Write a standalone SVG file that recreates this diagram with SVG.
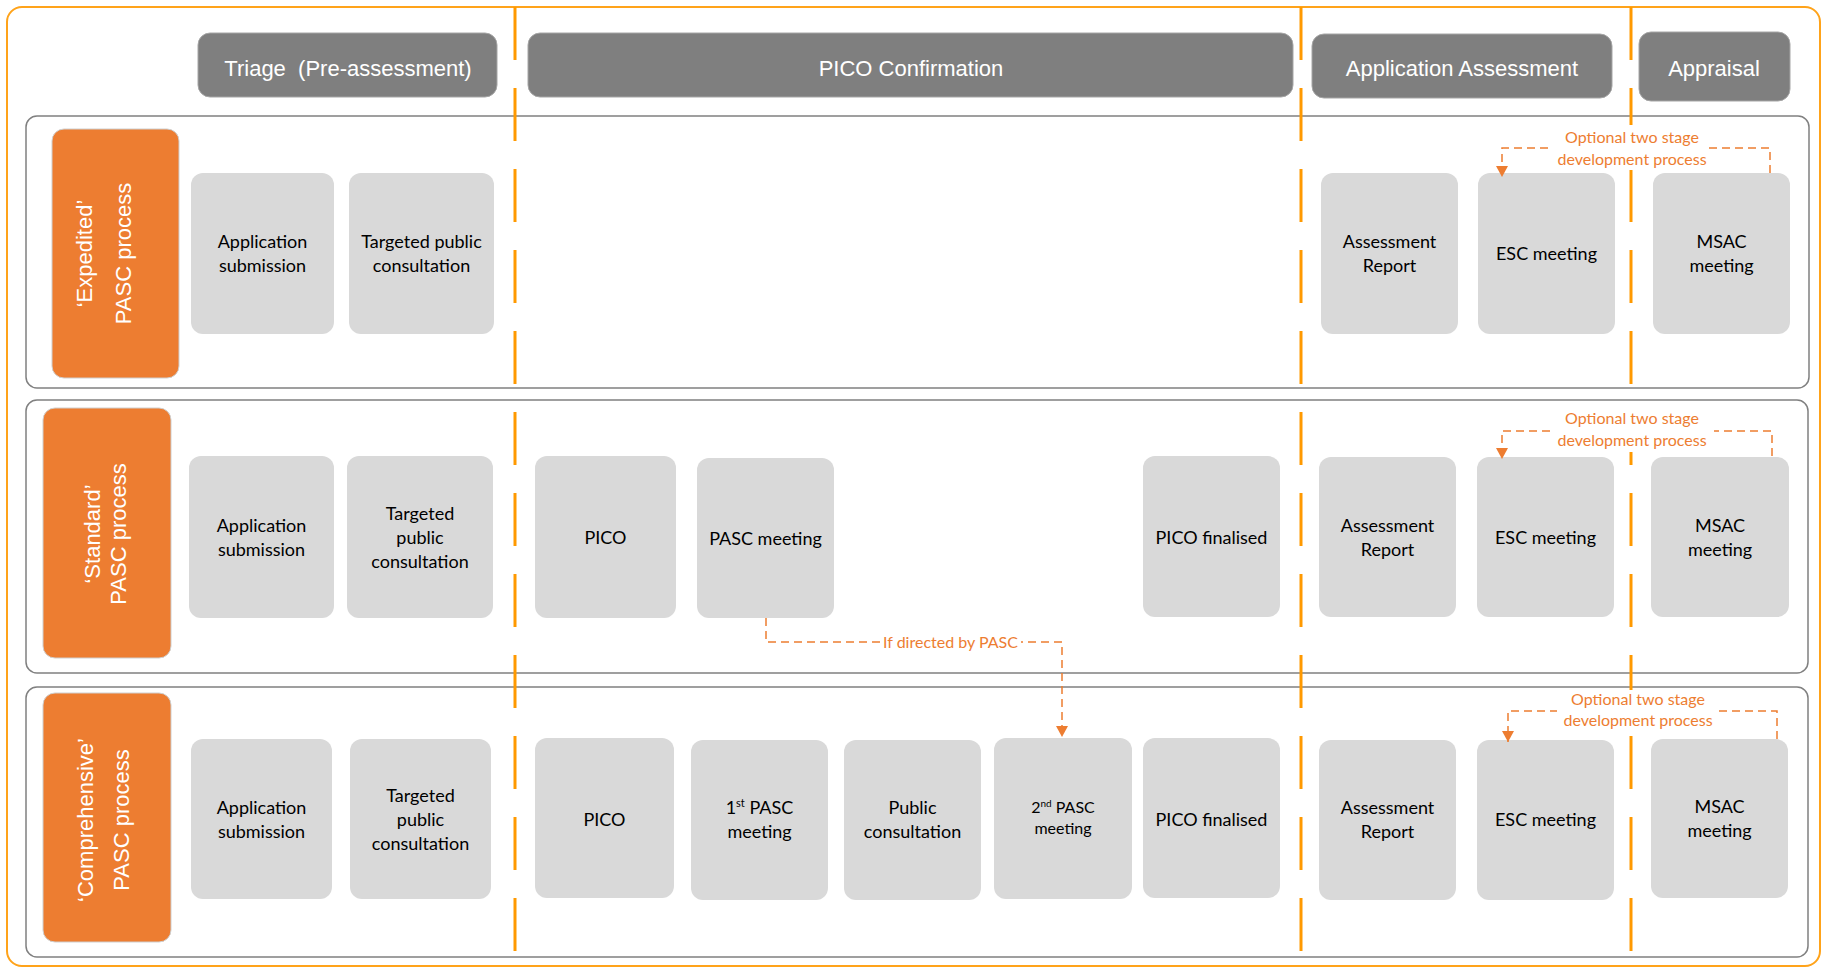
<svg xmlns="http://www.w3.org/2000/svg" width="1823" height="968" viewBox="0 0 1823 968">
<style>
.node rect{fill:#D9D9D9}
.node text{font-family:Lato,"Open Sans","Liberation Sans",sans-serif;font-size:18px;fill:#000;text-anchor:middle}
.hdr rect{fill:#7F7F7F;stroke:#A6A6A6;stroke-width:1}
.hdr text{font-family:"Liberation Sans",Arial,sans-serif;font-size:22px;fill:#fff;text-anchor:middle}
.lane rect{fill:#ED7D31;stroke:#CFCFCF;stroke-width:1}
.lane text{font-family:"Liberation Sans",Arial,sans-serif;font-size:22px;fill:#fff;text-anchor:middle}
.row{fill:#fff;stroke:#808080;stroke-width:1.5}
.vdash{stroke:#FF9900;stroke-width:3;stroke-dasharray:53 28;fill:none}
.conn{fill:none;stroke:#ED7D31;stroke-width:1.5;stroke-dasharray:8 5}
.clabel{font-family:Lato,"Open Sans","Liberation Sans",sans-serif;font-size:16px;fill:#ED7D31;text-anchor:middle}
.lbg{fill:#fff}
</style>
<defs>
<marker id="arr" viewBox="0 0 11 12" refX="11" refY="6" markerWidth="11" markerHeight="12" markerUnits="userSpaceOnUse" orient="auto">
<path d="M0,0 L11,6 L0,12 Z" fill="#ED7D31"/>
</marker>
</defs>
<rect x="0" y="0" width="1823" height="968" fill="#fff"/>
<rect x="7" y="7" width="1813" height="959" rx="15" fill="none" stroke="#FFA31A" stroke-width="2"/>

<g id="rows">
<rect class="row" x="26" y="116" width="1783" height="272" rx="11"/>
<rect class="row" x="26" y="400" width="1782" height="273" rx="11"/>
<rect class="row" x="26" y="687" width="1782" height="270" rx="11"/>
</g>

<g id="phase-lines">
<line class="vdash" x1="515" y1="7" x2="515" y2="951"/>
<line class="vdash" x1="1301" y1="7" x2="1301" y2="951"/>
<line class="vdash" x1="1631" y1="7" x2="1631" y2="951"/>
</g>

<g id="hdr-triage" class="hdr"><rect x="198" y="33" width="299" height="64" rx="12"/><text x="348" y="76">Triage&#160; (Pre-assessment)</text></g>
<g id="hdr-pico" class="hdr"><rect x="528" y="33" width="765" height="64" rx="12"/><text x="911" y="76">PICO Confirmation</text></g>
<g id="hdr-assess" class="hdr"><rect x="1312" y="34" width="300" height="64" rx="12"/><text x="1462" y="76">Application Assessment</text></g>
<g id="hdr-appraisal" class="hdr"><rect x="1639" y="32" width="151" height="69" rx="12"/><text x="1714" y="76">Appraisal</text></g>

<g id="lane-expedited" class="lane"><rect x="52" y="129" width="127" height="249" rx="12"/>
<text transform="translate(0,253.5) rotate(-90)"><tspan x="0" y="92">‘Expedited’</tspan><tspan x="0" y="131">PASC process</tspan></text></g>
<g id="lane-standard" class="lane"><rect x="43" y="408" width="128" height="250" rx="12"/>
<text transform="translate(0,534) rotate(-90)"><tspan x="0" y="100">‘Standard’</tspan><tspan x="0" y="126">PASC process</tspan></text></g>
<g id="lane-comprehensive" class="lane"><rect x="43" y="693" width="128" height="249" rx="12"/>
<text transform="translate(0,820) rotate(-90)"><tspan x="0" y="93">‘Comprehensive’</tspan><tspan x="0" y="129">PASC process</tspan></text></g>

<!-- Row 1 -->
<g id="r1-app" class="node"><rect x="191" y="173" width="143" height="161" rx="12"/><text><tspan x="262.5" y="248">Application</tspan><tspan x="262.5" y="272">submission</tspan></text></g>
<g id="r1-tpc" class="node"><rect x="349" y="173" width="145" height="161" rx="12"/><text><tspan x="421.5" y="248">Targeted public</tspan><tspan x="421.5" y="272">consultation</tspan></text></g>
<g id="r1-ar" class="node"><rect x="1321" y="173" width="137" height="161" rx="12"/><text><tspan x="1389.5" y="248">Assessment</tspan><tspan x="1389.5" y="272">Report</tspan></text></g>
<g id="r1-esc" class="node"><rect x="1478" y="173" width="137" height="161" rx="12"/><text x="1546.5" y="260">ESC meeting</text></g>
<g id="r1-msac" class="node"><rect x="1653" y="173" width="137" height="161" rx="12"/><text><tspan x="1721.5" y="248">MSAC</tspan><tspan x="1721.5" y="272">meeting</tspan></text></g>

<!-- Row 2 -->
<g id="r2-app" class="node"><rect x="189" y="456" width="145" height="162" rx="12"/><text><tspan x="261.5" y="531.5">Application</tspan><tspan x="261.5" y="555.5">submission</tspan></text></g>
<g id="r2-tpc" class="node"><rect x="347" y="456" width="146" height="162" rx="12"/><text><tspan x="420" y="519.5">Targeted</tspan><tspan x="420" y="543.5">public</tspan><tspan x="420" y="567.5">consultation</tspan></text></g>
<g id="r2-pico" class="node"><rect x="535" y="456" width="141" height="162" rx="12"/><text x="605.5" y="543.5">PICO</text></g>
<g id="r2-pasc" class="node"><rect x="697" y="458" width="137" height="160" rx="12"/><text x="765.5" y="544.5">PASC meeting</text></g>
<g id="r2-picof" class="node"><rect x="1143" y="456" width="137" height="161" rx="12"/><text x="1211.5" y="543.5">PICO finalised</text></g>
<g id="r2-ar" class="node"><rect x="1319" y="457" width="137" height="160" rx="12"/><text><tspan x="1387.5" y="531.5">Assessment</tspan><tspan x="1387.5" y="555.5">Report</tspan></text></g>
<g id="r2-esc" class="node"><rect x="1477" y="457" width="137" height="160" rx="12"/><text x="1545.5" y="543.5">ESC meeting</text></g>
<g id="r2-msac" class="node"><rect x="1651" y="457" width="138" height="160" rx="12"/><text><tspan x="1720" y="531.5">MSAC</tspan><tspan x="1720" y="555.5">meeting</tspan></text></g>

<!-- Row 3 -->
<g id="r3-app" class="node"><rect x="191" y="739" width="141" height="160" rx="12"/><text><tspan x="261.5" y="813.5">Application</tspan><tspan x="261.5" y="837.5">submission</tspan></text></g>
<g id="r3-tpc" class="node"><rect x="350" y="739" width="141" height="160" rx="12"/><text><tspan x="420.5" y="801.5">Targeted</tspan><tspan x="420.5" y="825.5">public</tspan><tspan x="420.5" y="849.5">consultation</tspan></text></g>
<g id="r3-pico" class="node"><rect x="535" y="738" width="139" height="160" rx="12"/><text x="604.5" y="825.5">PICO</text></g>
<g id="r3-pasc1" class="node"><rect x="691" y="740" width="137" height="160" rx="12"/><text><tspan x="759.5" y="814">1</tspan><tspan font-size="11" dy="-7">st</tspan><tspan dy="7"> PASC</tspan><tspan x="759.5" y="838">meeting</tspan></text></g>
<g id="r3-pub" class="node"><rect x="844" y="740" width="137" height="160" rx="12"/><text><tspan x="912.5" y="814">Public</tspan><tspan x="912.5" y="838">consultation</tspan></text></g>
<g id="r3-pasc2" class="node"><rect x="994" y="738" width="138" height="161" rx="12"/><text style="font-size:16px"><tspan x="1063" y="813">2</tspan><tspan style="font-size:10px" dy="-6">nd</tspan><tspan dy="6"> PASC</tspan><tspan x="1063" y="834">meeting</tspan></text></g>
<g id="r3-picof" class="node"><rect x="1143" y="738" width="137" height="160" rx="12"/><text x="1211.5" y="825.5">PICO finalised</text></g>
<g id="r3-ar" class="node"><rect x="1319" y="740" width="137" height="160" rx="12"/><text><tspan x="1387.5" y="814">Assessment</tspan><tspan x="1387.5" y="838">Report</tspan></text></g>
<g id="r3-esc" class="node"><rect x="1477" y="740" width="137" height="160" rx="12"/><text x="1545.5" y="826">ESC meeting</text></g>
<g id="r3-msac" class="node"><rect x="1651" y="739" width="137" height="159" rx="12"/><text><tspan x="1719.5" y="813">MSAC</tspan><tspan x="1719.5" y="837">meeting</tspan></text></g>

<g id="connectors">
<path class="conn" d="M1770,173 V148 H1502 V177" marker-end="url(#arr)"/>
<rect class="lbg" x="1553" y="125" width="156" height="45"/>
<text class="clabel"><tspan x="1632" y="143">Optional two stage</tspan><tspan x="1632" y="165">development process</tspan></text>

<path class="conn" d="M1772,456 V431 H1502 V459" marker-end="url(#arr)"/>
<rect class="lbg" x="1552" y="409" width="162" height="43"/>
<text class="clabel"><tspan x="1632" y="424">Optional two stage</tspan><tspan x="1632" y="446">development process</tspan></text>

<path class="conn" d="M1777,739 V711 H1508 V742" marker-end="url(#arr)"/>
<rect class="lbg" x="1557" y="690" width="160" height="41"/>
<text class="clabel"><tspan x="1638" y="705">Optional two stage</tspan><tspan x="1638" y="726">development process</tspan></text>

<path class="conn" d="M766,618 V642 H1062 V737" marker-end="url(#arr)"/>
<rect class="lbg" x="880" y="632" width="141" height="20"/>
<text class="clabel" x="950.5" y="648">If directed by PASC</text>
</g>
</svg>
